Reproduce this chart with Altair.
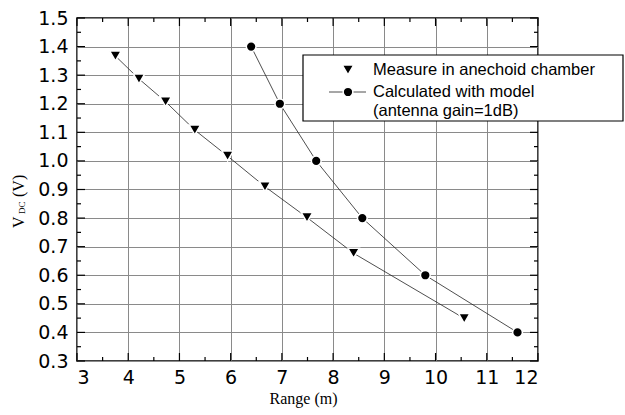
import altair as alt
import pandas as pd

# ---- data ----
meas_range = [3.75, 4.21, 4.73, 5.30, 5.94, 6.67, 7.49, 8.40, 10.56]
meas_vdc = [1.367, 1.287, 1.207, 1.108, 1.017, 0.910, 0.802, 0.677, 0.449]
model_range = [6.40, 6.96, 7.67, 8.57, 9.80, 11.60]
model_vdc = [1.40, 1.20, 1.00, 0.80, 0.60, 0.40]

x_ticks = [3, 4, 5, 6, 7, 8, 9, 10, 11, 12]
x_minor = [3.5, 4.5, 5.5, 6.5, 7.5, 8.5, 9.5, 10.5, 11.5]
y_ticks = [0.3, 0.4, 0.5, 0.6, 0.7, 0.8, 0.9, 1.0, 1.1, 1.2, 1.3, 1.4, 1.5]
y_minor = [0.35, 0.45, 0.55, 0.65, 0.75, 0.85, 0.95, 1.05, 1.15, 1.25, 1.35, 1.45]

legend_labels = ["Measure in anechoid chamber", "Calculated with model", "(antenna gain=1dB)"]
x_title = "Range (m)"
y_title_parts = ["V", "DC", "(V)"]

W, H = 461, 343
xs = alt.Scale(domain=[3, 12], nice=False, zero=False)
ys = alt.Scale(domain=[0.3, 1.5], nice=False, zero=False)

meas = pd.DataFrame({"range": meas_range, "vdc": meas_vdc})
model = pd.DataFrame({"range": model_range, "vdc": model_vdc})

X_AXIS = alt.Axis(values=x_ticks, title=x_title, format="d", grid=True, labelPadding=7,
                  titleX=226, titleY=42, titleAlign="center", titleBaseline="alphabetic")
Y_AXIS = alt.Axis(values=y_ticks, title=None, format=".1f", grid=True)
X = alt.X("range:Q", scale=xs, axis=X_AXIS)
Y = alt.Y("vdc:Q", scale=ys, axis=Y_AXIS)

LINE_C = "#222222"

meas_line = alt.Chart(meas).mark_line(color=LINE_C, strokeWidth=0.8).encode(x=X, y=Y)
meas_pts = alt.Chart(meas).mark_point(shape="triangle-down", filled=True, fill="black",
                                      stroke="white", strokeWidth=1.5, size=130,
                                      opacity=1).encode(x=X, y=Y)
model_line = alt.Chart(model).mark_line(color=LINE_C, strokeWidth=0.8).encode(x=X, y=Y)
model_pts = alt.Chart(model).mark_point(shape="circle", filled=True, fill="black",
                                        stroke="white", strokeWidth=1.5, size=95,
                                        opacity=1).encode(x=X, y=Y)

# ---- inward ticks (frame on all four sides) ----
def xticks(vals, length, top):
    d = pd.DataFrame({"range": vals})
    y0 = 0 if top else H
    y1 = length if top else H - length
    return alt.Chart(d).mark_rule(color="black", strokeWidth=1.2).encode(
        x=X, y=alt.value(y0), y2=alt.value(y1))

def yticks(vals, length, right):
    d = pd.DataFrame({"vdc": vals})
    x0 = W if right else 0
    x1 = W - length if right else length
    return alt.Chart(d).mark_rule(color="black", strokeWidth=1.2).encode(
        y=Y, x=alt.value(x0), x2=alt.value(x1))

tick_layers = [
    xticks(x_ticks, 8, False), xticks(x_ticks, 8, True),
    xticks(x_minor, 4, False), xticks(x_minor, 4, True),
    yticks(y_ticks, 8, False), yticks(y_ticks, 8, True),
    yticks(y_minor, 4, False), yticks(y_minor, 4, True),
]

# ---- legend (drawn by hand, box extends past the frame like the original) ----
one = pd.DataFrame({"k": [0]})
leg_box = alt.Chart(one).mark_rect(fill="white", stroke="black", strokeWidth=1.2).encode(
    x=alt.value(226), x2=alt.value(546), y=alt.value(37), y2=alt.value(103))
leg_line = alt.Chart(one).mark_rule(color=LINE_C, strokeWidth=0.8).encode(
    x=alt.value(252), x2=alt.value(289), y=alt.value(74))
leg_tri = alt.Chart(one).mark_point(shape="triangle-down", filled=True, fill="black",
                                    stroke="white", strokeWidth=1.5, size=130,
                                    opacity=1).encode(x=alt.value(271), y=alt.value(52))
leg_circ = alt.Chart(one).mark_point(shape="circle", filled=True, fill="black",
                                     stroke="white", strokeWidth=1.5, size=95,
                                     opacity=1).encode(x=alt.value(271), y=alt.value(74))
leg_rows = [52, 74, 93]
leg_texts = [
    alt.Chart(one).mark_text(align="left", baseline="middle", font="Liberation Sans",
                             fontSize=16.5, color="black").encode(
        x=alt.value(296), y=alt.value(r), text=alt.value(lbl))
    for lbl, r in zip(legend_labels, leg_rows)
]

# ---- y title with subscript ----
yt_font = "Liberation Serif"
yt = [
    alt.Chart(one).mark_text(align="left", baseline="alphabetic", angle=270, font=yt_font,
                             fontSize=16, color="black").encode(
        x=alt.value(-53.5), y=alt.value(210), text=alt.value(y_title_parts[0])),
    alt.Chart(one).mark_text(align="left", baseline="alphabetic", angle=270, font=yt_font,
                             fontSize=9, color="black").encode(
        x=alt.value(-52), y=alt.value(196), text=alt.value(y_title_parts[1])),
    alt.Chart(one).mark_text(align="left", baseline="alphabetic", angle=270, font=yt_font,
                             fontSize=16, color="black").encode(
        x=alt.value(-53.5), y=alt.value(179), text=alt.value(y_title_parts[2])),
]

chart = alt.layer(
    meas_line, model_line, meas_pts, model_pts, *tick_layers,
    leg_box, leg_line, leg_tri, leg_circ, *leg_texts, *yt
).properties(
    width=W, height=H,
    padding={"left": 77, "top": 18, "right": 87, "bottom": 54},
    autosize=alt.AutoSizeParams(type="none"),
    background="white",
).configure_view(
    stroke="black", strokeWidth=1.5
).configure_axis(
    domain=False, ticks=False, gridColor="#8a8a8a", gridWidth=1, gridOpacity=1,
    labelFont="DejaVu Sans", labelFontSize=19, labelColor="black", labelPadding=9,
    titleFont="Liberation Serif", titleFontSize=16, titleFontWeight="normal",
    titleColor="black",
)

chart.save("out.html", embed_options={"renderer": "svg", "actions": False})
